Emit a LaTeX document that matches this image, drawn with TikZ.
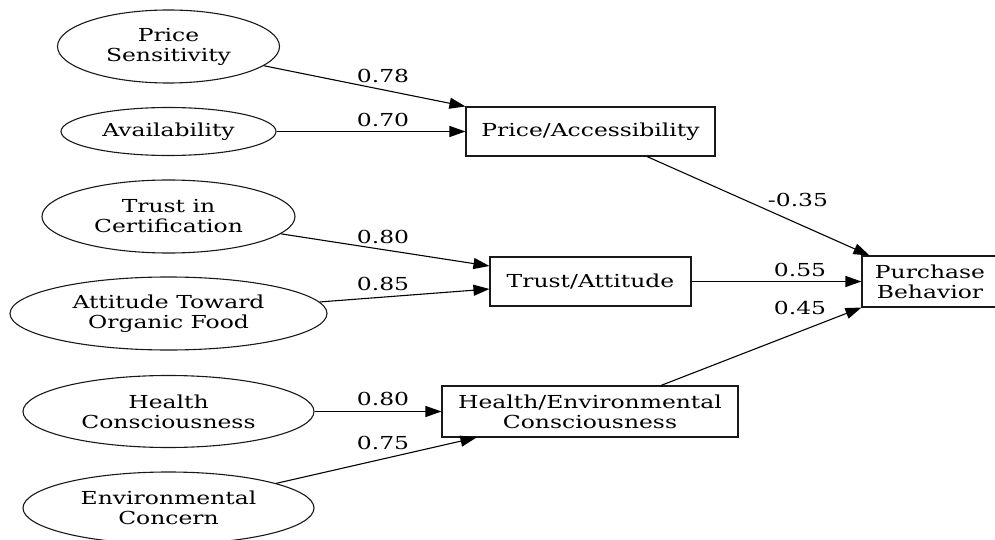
\documentclass[tikz,border=0pt]{standalone}
\usepackage{fontspec}
\setmainfont{DejaVu Serif}[FakeStretch=1.31]
\usetikzlibrary{shapes.geometric,arrows.meta,calc}
\begin{document}
\begin{tikzpicture}[x=1pt,y=-1pt,
  every node/.style={font=\fontsize{17.9}{20}\selectfont, align=center, inner sep=0pt, text=black},
  latent/.style={draw=black!90, ellipse, line width=1.1pt},
  factor/.style={draw=black!90, rectangle, line width=1.1pt},
  edge/.style={draw=black, line width=1.1pt, -{Triangle[length=16pt,width=11pt]}},
  coef/.style={}]
\useasboundingbox (0,0) rectangle (995,540);
% latent indicators
\node[latent, minimum width=222pt, minimum height=73pt] (ps) at (168.5,46.5) {Price\\Sensitivity};
\node[latent, minimum width=215pt, minimum height=48pt] (av) at (168.5,131.5) {Availability};
\node[latent, minimum width=253pt, minimum height=73pt] (tc) at (168.5,216.5) {Trust in\\Certification};
\node[latent, minimum width=317pt, minimum height=73pt] (at) at (168.5,313.5) {Attitude Toward\\Organic Food};
\node[latent, minimum width=291pt, minimum height=72pt] (hc) at (168.5,411.5) {Health\\Consciousness};
\node[latent, minimum width=291pt, minimum height=72pt] (ec) at (168.5,508) {Environmental\\Concern};
% factors
\node[factor, minimum width=249pt, minimum height=49pt] (pa) at (590.5,131.5) {Price/Accessibility};
\node[factor, minimum width=201pt, minimum height=49pt] (ta) at (590.5,281.5) {Trust/Attitude};
\node[factor, minimum width=296pt, minimum height=51pt] (he) at (590,411.5) {Health/Environmental\\Consciousness};
\node[factor, minimum width=136pt, minimum height=51pt] (pb) at (930,281.5) {Purchase\\Behavior};
% edges
\draw[edge] (ps) -- (pa.north west);
\draw[edge] (av) -- (pa);
\draw[edge] (tc) -- ([yshift=15.5pt]ta.west);
\draw[edge] (at) -- ([yshift=-7.5pt]ta.west);
\draw[edge] (hc) -- (he);
\draw[edge] (ec) -- ([xshift=35pt]he.south west);
\draw[edge] ([xshift=56.5pt]pa.south) -- ([xshift=8pt]pb.north west);
\draw[edge] (ta) -- (pb);
\draw[edge] ([xshift=71pt]he.north) -- (pb.south west);
% coefficients
\node[coef] (l1) at (383,75.5) {0.78};
\node[coef] (l2) at (383,119.5) {0.70};
\node[coef] (l3) at (383,237) {0.80};
\node[coef] (l4) at (383,284) {0.85};
\node[coef] (l5) at (383,399) {0.80};
\node[coef] (l6) at (383,443) {0.75};
\node[coef] (l7) at (798,200) {-0.35};
\node[coef] (l8) at (800,270) {0.55};
\node[coef] (l9) at (800,308) {0.45};
\end{tikzpicture}
\end{document}
